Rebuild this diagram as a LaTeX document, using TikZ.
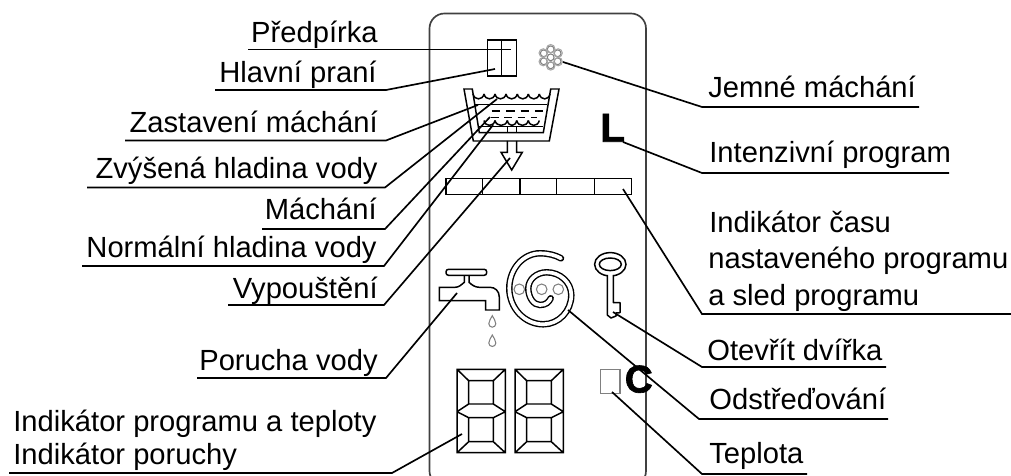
\documentclass[tikz,border=0pt]{standalone}
\usepackage{fontspec}
\setmainfont{Liberation Sans}
\newfontfamily\heavyfont[BoldFeatures={FakeBold=1.6}]{Liberation Sans}
\begin{document}
\begin{tikzpicture}[x=0.02cm,y=-0.02cm,
  lab/.style={inner sep=0pt,font=\fontsize{16.6}{20}\selectfont},
  labl/.style={lab,anchor=base east},
  labr/.style={lab,anchor=base west},
  big/.style={inner sep=0pt,anchor=base west},
  lead/.style={line width=0.95pt,line join=miter},
  sym/.style={line width=0.85pt,line join=miter},
  faint/.style={line width=0.6pt,draw=black!50}]
\useasboundingbox (0,0) rectangle (1011,476);
% panel
\draw[line width=0.95pt,draw=black!75,rounded corners=0.3cm] (429.5,13.5) rectangle (646,486);
% boxes top
\draw[sym] (487.7,40) rectangle (516.7,76) (501.7,40) -- (501.7,76);
% soft rinse
\foreach \a in {30,90,...,330}
  \draw[faint] (550.7,57.3) ++(\a:8) circle (3.4);
\draw[faint] (550.7,57.3) circle (3.4);
\foreach \a in {30,90,...,330}
  \draw[faint,draw=black!35] (550.7,57.3) ++(\a:8.6) circle (4.2);
% tub
\draw[sym] (464,89) -- (472.3,89) -- (479.3,132.7) -- (543.3,132.7) -- (550.7,89) -- (559,89) -- (549.3,141) -- (473.3,141) -- cycle;
\foreach \xa/\xb in {473/484,484/495,495/506,506/517.3,517.3/528.3,528.3/539.3,539.3/550}
  \draw[sym] (\xa,94) .. controls (\xa+1.5,100.5) and (\xb-1.5,100.5) .. (\xb,94);
\draw[line width=1.1pt] (475,104.5) -- (547,104.5);
\draw[sym,dash pattern=on 4.8pt off 3.4pt] (491.7,111) -- (543,111);
\draw[sym,dash pattern=on 4.4pt off 3.2pt] (491,117.3) -- (537,117.3);
\foreach \xa/\xb in {484/495,495/507.3,507.3/516.7,516.7/528.3,528.3/539.3}
  \draw[sym] (\xa,120.5) .. controls (\xa+1.5,127) and (\xb-1.5,127) .. (\xb,120.5);
\draw[sym] (479,126.5) -- (543,126.5) (507.3,126.5) -- (507.3,132.7) (516.7,126.5) -- (516.7,132.7);
% drain arrow
\draw[sym] (507.3,141) -- (507.3,152.3) -- (501,152.3) -- (511.7,170) -- (522.3,152.3) -- (516.7,152.3) -- (516.7,141);
% time bar
\draw[sym] (446,178.3) rectangle (631.7,194.3);
\foreach \x in {482.7,520,556.7,594.3} \draw[sym] (\x,178.3) -- (\x,194.3);
% letters
\node[big,font=\fontsize{23}{23}\selectfont\heavyfont\bfseries] (bigL) at (600,141.7) {L};
\node[big,font=\fontsize{22}{22}\selectfont\heavyfont\bfseries] (bigC) at (624.5,392.5) {C};
% tap
\draw[sym,rounded corners=0.05cm] (446,269.3) rectangle (486.7,275.3);
\draw[sym] (464.3,275.3) -- (464.3,282.3) .. controls (461,285) and (459,287.3) .. (455,287.3) -- (439.3,287.3) -- (439.3,300.7) -- (485.7,300.7) -- (485.7,310) -- (499.3,310) -- (499.3,297) .. controls (499.3,291) and (495,287.3) .. (490,287.3) -- (479.3,287.3) .. controls (475,287.3) and (472,285) .. (469,282.3) -- (469,275.3);
\foreach \y in {315.7,335}
  \draw[faint] (492.3,\y) .. controls (491,\y+3) and (488.8,\y+5) .. (488.8,\y+8) arc[start angle=180,end angle=0,radius=3.5] .. controls (495.8,\y+5) and (493.6,\y+3) .. (492.3,\y) -- cycle;
% spin
\foreach \x in {519.3,541.7,558.3} \draw[faint] (\x,289.3) circle (5.3);
\draw[line width=0.8pt,double,double distance=2.1pt,line cap=round] (561,258.3) .. controls (555,255) and (548,253.3) .. (540,253.3)
  .. controls (523.1,253.3) and (509.3,269) .. (509.3,288.3)
  .. controls (509.3,308.1) and (524.6,324.3) .. (543.3,324.3)
  .. controls (558.7,324.3) and (571.3,311.1) .. (571.3,295)
  .. controls (571.3,282.5) and (560.2,272.3) .. (546.7,272.3)
  .. controls (536.6,272.3) and (528.3,279.5) .. (528.3,288.3)
  .. controls (528.3,297.5) and (533.6,305) .. (540,305)
  .. controls (546,305) and (549,302) .. (550.7,298.3);
% key
\draw[sym] (610.3,264.3) ellipse (15.7 and 11.7) (610.3,264.3) ellipse (11 and 6.3);
\fill[white] (607.7,274) rectangle (612.9,277);
\draw[sym,line join=round] (607.3,275) -- (607.3,315) -- (611,318) -- (616,316) -- (616,313) -- (620,312.7) -- (620,302.7) -- (613.3,302.7) -- (613.3,275);
% display
\foreach \dx in {0,58}
  \draw[sym] (457+\dx,369.3) rectangle (505.3+\dx,452.7)
    (468.7+\dx,380.7) rectangle (493.3+\dx,404)
    (468.7+\dx,417.7) rectangle (493.3+\dx,441.7)
    (457+\dx,411.7) -- (468.7+\dx,404) (505.3+\dx,411.7) -- (493.3+\dx,404)
    (457+\dx,411.7) -- (468.7+\dx,417.7) (505.3+\dx,411.7) -- (493.3+\dx,417.7)
    (457+\dx,369.3) -- (468.7+\dx,380.7) (505.3+\dx,369.3) -- (493.3+\dx,380.7)
    (457+\dx,452.7) -- (468.7+\dx,441.7) (505.3+\dx,452.7) -- (493.3+\dx,441.7);
\draw[faint] (600.3,369.3) rectangle (620,393.3);
% labels left
\node[labl] (predpirka) at (378,43) {Předpírka};
\node[labl] (hlavni) at (377,83) {Hlavní praní};
\node[labl] (zastaveni) at (378,133) {Zastavení máchání};
\node[labl] (zvysena) at (378,179) {Zvýšená hladina vody};
\node[labl] (machani) at (377,220) {Máchání};
\node[labl] (normalni) at (377,257) {Normální hladina vody};
\node[labl] (vypousteni) at (378,298) {Vypouštění};
\node[labl] (porucha) at (378,370) {Porucha vody};
\node[lab,anchor=base west] (indprog) at (13,431) {Indikátor programu a teploty};
\node[lab,anchor=base west] (indpor) at (13,464) {Indikátor poruchy};
% labels right
\node[labr] (jemne) at (708,98) {Jemné máchání};
\node[labr] (intenz) at (709,163) {Intenzivní program};
\node[labr] (cas1) at (709,233) {Indikátor času};
\node[labr] (cas2) at (708,269) {nastaveného programu};
\node[labr] (cas3) at (708,305) {a sled programu};
\node[labr] (otevrit) at (707,360) {Otevřít dvířka};
\node[labr] (odstred) at (709,409) {Odstřeďování};
\node[labr] (teplota) at (709,463) {Teplota};
% leader ends
\coordinate (aPred) at (248,49.5);  \coordinate (tPred) at (511,49.5);
\coordinate (aHlav) at (215,90);    \coordinate (bHlav) at (386,90);    \coordinate (tHlav) at (495,69);
\coordinate (aZast) at (125,140.5); \coordinate (bZast) at (386,140.5); \coordinate (tZast) at (478,105);
\coordinate (aZvys) at (87,187.5);  \coordinate (bZvys) at (385,187.5); \coordinate (tZvys) at (497,99);
\coordinate (aMach) at (262,229);   \coordinate (bMach) at (385,229);   \coordinate (tMach) at (490,117);
\coordinate (aNorm) at (82,266);    \coordinate (bNorm) at (384,266);   \coordinate (tNorm) at (493,125);
\coordinate (aVyp) at (228,305);    \coordinate (bVyp) at (384,305);    \coordinate (tVyp) at (510,158);
\coordinate (aPor) at (197,378);    \coordinate (bPor) at (386,378);    \coordinate (tPor) at (457,293);
\coordinate (aInd) at (9,473);      \coordinate (bInd) at (392,473);    \coordinate (tInd) at (462,434);
\coordinate (aJem) at (919,107);    \coordinate (bJem) at (702,107);    \coordinate (tJem) at (563,62);
\coordinate (aInt) at (949,173);    \coordinate (bInt) at (702,173);    \coordinate (tInt) at (623,142);
\coordinate (aCas) at (1011,314);   \coordinate (bCas) at (702,314);    \coordinate (tCas) at (623,189);
\coordinate (aOte) at (886,367);    \coordinate (bOte) at (702,367);    \coordinate (tOte) at (613,312);
\coordinate (aOds) at (888,419);    \coordinate (bOds) at (699,419);    \coordinate (tOds) at (568,310);
\coordinate (aTep) at (807,474);    \coordinate (bTep) at (702,474);    \coordinate (tTep) at (612,392);
\draw[lead] (aPred) -- (tPred);
\foreach \n in {Hlav,Zast,Zvys,Mach,Norm,Vyp,Por,Ind,Jem,Int,Cas,Ote,Ods,Tep}
  \draw[lead] (a\n) -- (b\n) -- (t\n);
\end{tikzpicture}
\end{document}
